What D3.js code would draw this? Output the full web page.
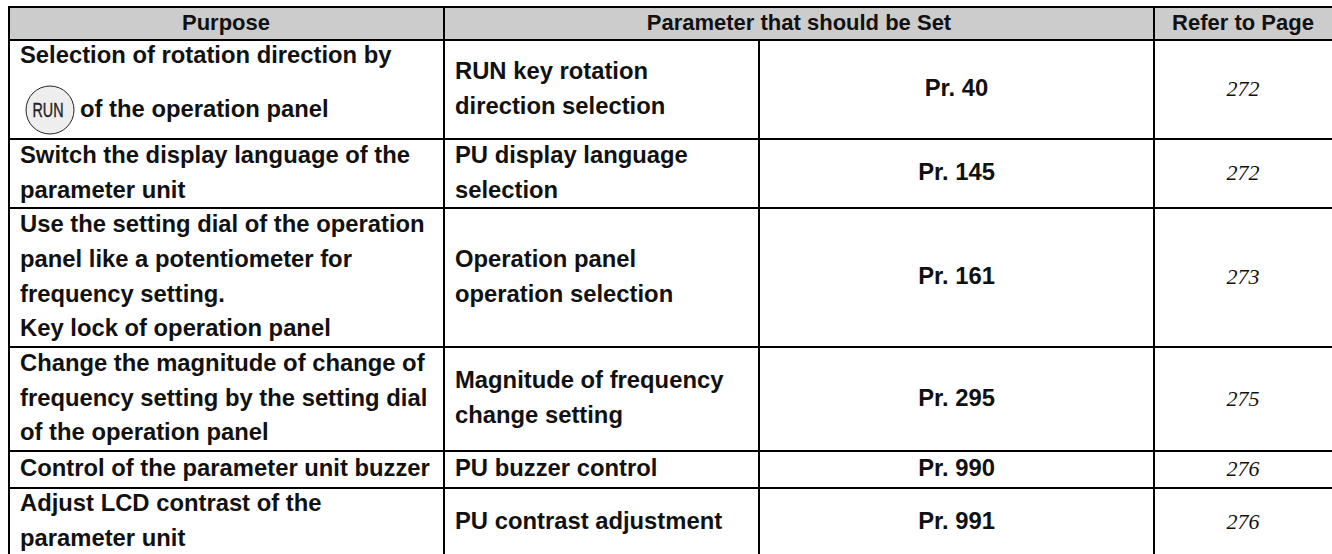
<!DOCTYPE html>
<html>
<head>
<meta charset="utf-8">
<script src="https://cdn.jsdelivr.net/npm/d3@7"></script>
<style>
html, body { margin: 0; background: #fff; overflow: hidden; }
svg { display: block; }
</style>
</head>
<body>
<svg width="1332" height="554"></svg>
<script>
let headers = ['Purpose', 'Parameter that should be Set', 'Refer to Page'];
let purposes = [
    ['Selection of rotation direction by', 'of the operation panel'],
    ['Switch the display language of the', 'parameter unit'],
    ['Use the setting dial of the operation', 'panel like a potentiometer for', 'frequency setting.', 'Key lock of operation panel'],
    ['Change the magnitude of change of', 'frequency setting by the setting dial', 'of the operation panel'],
    ['Control of the parameter unit buzzer'],
    ['Adjust LCD contrast of the', 'parameter unit']
];
let names = [
    ['RUN key rotation', 'direction selection'],
    ['PU display language', 'selection'],
    ['Operation panel', 'operation selection'],
    ['Magnitude of frequency', 'change setting'],
    ['PU buzzer control'],
    ['PU contrast adjustment']
];
let params = ['Pr. 40', 'Pr. 145', 'Pr. 161', 'Pr. 295', 'Pr. 990', 'Pr. 991'];
let pages = ['272', '272', '273', '275', '276', '276'];
let rowEdges = [40, 139, 208, 347, 451, 488, 556];
let colEdges = [9, 444, 759, 1154, 1334];

let svg = d3.select('svg');
let font = 'Liberation Sans, Arial, sans-serif';
let bodySize = 23.8;
let lineH = 34.7;

// header band
svg.append('rect')
    .attr('x', colEdges[0]).attr('y', 7)
    .attr('width', colEdges[4] - colEdges[0]).attr('height', 33)
    .attr('fill', '#cccccc');

let headerX = [226, (colEdges[1] + colEdges[3]) / 2, 1243];
svg.selectAll('text.head')
    .data(headers)
    .enter().append('text')
    .attr('class', 'head')
    .attr('x', (d, i) => headerX[i])
    .attr('y', 29.5)
    .attr('text-anchor', 'middle')
    .attr('font-family', font)
    .attr('font-weight', 'bold')
    .attr('font-size', 22)
    .attr('fill', '#111')
    .text(d => d);

function multi(lines, x, i) {
    let mid = (rowEdges[i] + rowEdges[i + 1]) / 2;
    let top = mid - (lines.length - 1) * lineH / 2;
    svg.append('g').selectAll('text')
        .data(lines)
        .enter().append('text')
        .attr('x', x)
        .attr('y', (d, j) => top + j * lineH + 6.7)
        .attr('font-family', font)
        .attr('font-weight', 'bold')
        .attr('font-size', bodySize)
        .attr('fill', '#111')
        .text(d => d);
}

purposes.forEach((lines, i) => {
    if (i > 0) multi(lines, 20, i);
});
names.forEach((lines, i) => multi(lines, 455, i));

// first purpose row wraps around the key icon
let first = svg.append('g')
    .attr('font-family', font)
    .attr('font-weight', 'bold')
    .attr('font-size', bodySize)
    .attr('fill', '#111');
first.append('text').attr('x', 20).attr('y', 63).text(purposes[0][0]);
first.append('text').attr('x', 80).attr('y', 117).text(purposes[0][1]);

svg.append('g').selectAll('text')
    .data(params)
    .enter().append('text')
    .attr('x', (colEdges[2] + colEdges[3]) / 2)
    .attr('y', (d, i) => (rowEdges[i] + rowEdges[i + 1]) / 2 + 6.7)
    .attr('text-anchor', 'middle')
    .attr('font-family', font)
    .attr('font-weight', 'bold')
    .attr('font-size', bodySize)
    .attr('fill', '#111')
    .text(d => d);

svg.append('g').selectAll('text')
    .data(pages)
    .enter().append('text')
    .attr('x', 1243)
    .attr('y', (d, i) => (rowEdges[i] + rowEdges[i + 1]) / 2 + 6.5)
    .attr('text-anchor', 'middle')
    .attr('font-family', 'Liberation Serif, Times New Roman, serif')
    .attr('font-style', 'italic')
    .attr('font-size', 22)
    .attr('fill', '#111')
    .text(d => d);

// RUN key icon
let key = svg.append('g').attr('transform', 'translate(50,110)');
key.append('circle')
    .attr('r', 24)
    .attr('fill', '#eeeeee')
    .attr('stroke', '#222')
    .attr('stroke-width', 1);
key.append('text')
    .attr('x', -2)
    .attr('y', 7)
    .attr('text-anchor', 'middle')
    .attr('font-family', font)
    .attr('font-size', 20)
    .attr('textLength', 31)
    .attr('lengthAdjust', 'spacingAndGlyphs')
    .attr('fill', '#222')
    .attr('stroke', '#222')
    .attr('stroke-width', 0.4)
    .text('RUN');

// grid, runs off the right and bottom of the crop
let rule = (x1, y1, x2, y2) => svg.append('line')
    .attr('x1', x1).attr('y1', y1).attr('x2', x2).attr('y2', y2)
    .attr('stroke', '#000').attr('stroke-width', 2);

rule(colEdges[0], 7, colEdges[4], 7);
rowEdges.forEach(y => rule(colEdges[0], y, colEdges[4], y));
[0, 1, 3].forEach(c => rule(colEdges[c], 6, colEdges[c], rowEdges[6]));
rule(colEdges[2], 40, colEdges[2], rowEdges[6]);
</script>
</body>
</html>
